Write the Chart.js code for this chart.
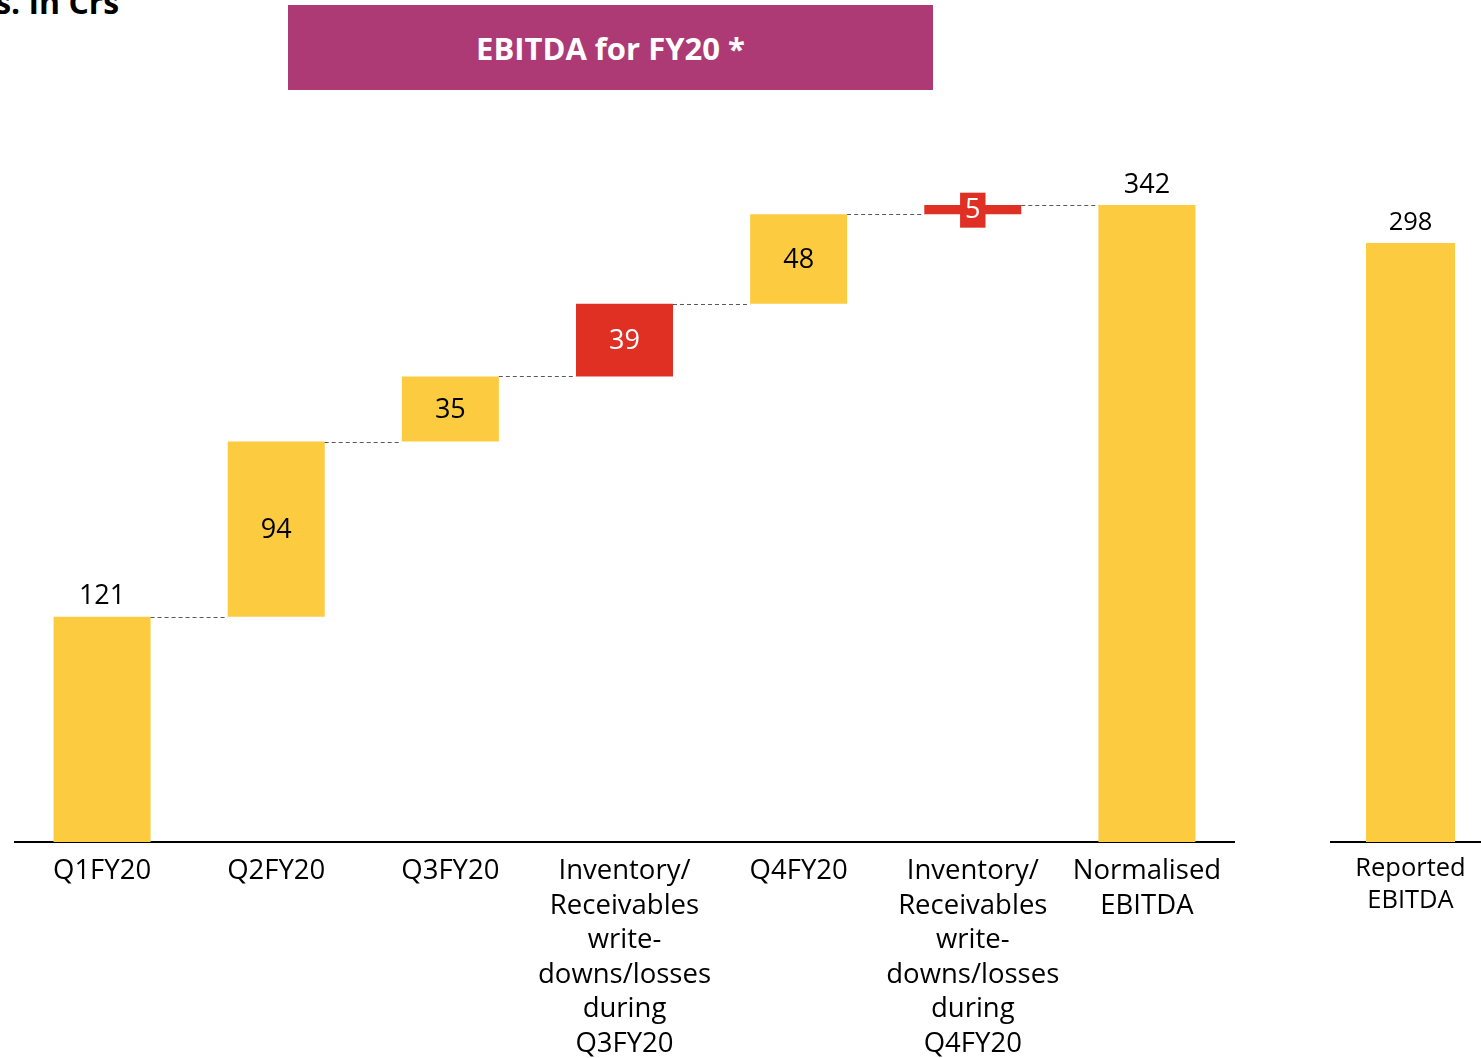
<!DOCTYPE html>
<html>
<head>
<meta charset="utf-8">
<title>EBITDA for FY20</title>
<script src="https://cdn.jsdelivr.net/npm/chart.js@4.4.1/dist/chart.umd.min.js"></script>
<style>
  html, body {
    margin: 0;
    padding: 0;
    width: 1481px;
    height: 1058px;
    overflow: hidden;
    background: #fff;
    font-family: "Open Sans", sans-serif;
  }
  #unit {
    position: absolute;
    left: -26px;
    top: -20px;
    font-weight: 700;
    font-size: 32px;
    color: #000;
    white-space: nowrap;
  }
  #title {
    position: absolute;
    left: 288px;
    top: 5px;
    width: 645px;
    height: 85px;
    background: #ad3a74;
    color: #fff;
    font-weight: 700;
    font-size: 31px;
    display: flex;
    align-items: center;
    justify-content: center;
  }
  #mainChart { position: absolute; left: 0; top: 0; }
  #sideChart { position: absolute; left: 1330px; top: 0; }
</style>
</head>
<body>
<div id="unit">Rs. In Crs</div>
<div id="title">EBITDA for FY20 *</div>
<canvas id="mainChart" width="1250" height="1058"></canvas>
<canvas id="sideChart" width="161" height="1058"></canvas>

<script>
// ---- data ----
const categories = [
  ["Q1FY20"],
  ["Q2FY20"],
  ["Q3FY20"],
  ["Inventory/", "Receivables", "write-", "downs/losses", "during", "Q3FY20"],
  ["Q4FY20"],
  ["Inventory/", "Receivables", "write-", "downs/losses", "during", "Q4FY20"],
  ["Normalised", "EBITDA"]
];
const values = [121, 94, 35, 39, 48, 5, 342];
// total = bar from zero, step = normal increment, adjust = write-down add-back
const barKinds = ["total", "step", "step", "adjust", "step", "adjust", "total"];

const reportedCategories = [["Reported", "EBITDA"]];
const reportedValues = [298];
const reportedKinds = ["total"];

const YELLOW = "#fccb40";
const RED = "#e03024";

// running totals -> floating bars
function toFloating(vals, kinds) {
  let running = 0;
  return vals.map((v, i) => {
    if (kinds[i] === "total") {
      running = v;
      return [0, v];
    }
    const start = running;
    running += v;
    return [start, running];
  });
}

// connectors + value labels
const waterfallPlugin = {
  id: "waterfall",
  afterDatasetsDraw(chart, args, opts) {
    const ctx = chart.ctx;
    const meta = chart.getDatasetMeta(0);
    const data = chart.data.datasets[0].data;
    const yScale = chart.scales.y;

    if (opts.connectors) {
      ctx.save();
      ctx.strokeStyle = "#595959";
      ctx.lineWidth = 1;
      ctx.setLineDash([4, 3]);
      for (let i = 0; i < meta.data.length - 1; i++) {
        const a = meta.data[i];
        const b = meta.data[i + 1];
        const y = Math.round(yScale.getPixelForValue(data[i][1])) + 0.5;
        ctx.beginPath();
        ctx.moveTo(a.x + a.width / 2, y);
        ctx.lineTo(b.x - b.width / 2, y);
        ctx.stroke();
      }
      ctx.restore();
    }

    ctx.save();
    ctx.font = opts.fontSize + "px 'Open Sans'";
    ctx.textAlign = "center";
    ctx.textBaseline = "middle";
    meta.data.forEach((bar, i) => {
      const kind = opts.kinds[i];
      const text = String(opts.values[i]);
      const top = Math.min(bar.y, bar.base);
      const bottom = Math.max(bar.y, bar.base);
      if (kind === "total") {
        ctx.fillStyle = "#000";
        ctx.fillText(text, bar.x, top - 20);
        return;
      }
      const cy = (top + bottom) / 2;
      if (kind === "adjust") {
        if (bottom - top < 34) {
          const w = ctx.measureText(text).width + 10;
          ctx.fillStyle = RED;
          ctx.fillRect(bar.x - w / 2, cy - 17, w, 35);
        }
        ctx.fillStyle = "#fff";
      } else {
        ctx.fillStyle = "#000";
      }
      ctx.fillText(text, bar.x, cy + 1);
    });
    ctx.restore();
  }
};

function makeChart(canvasId, labels, vals, kinds, cfg) {
  const ctx = document.getElementById(canvasId).getContext("2d");
  return new Chart(ctx, {
    type: "bar",
    data: {
      labels: labels,
      datasets: [{
        data: toFloating(vals, kinds),
        backgroundColor: kinds.map(k => (k === "adjust" ? RED : YELLOW)),
        borderWidth: 0,
        borderSkipped: false,
        barPercentage: cfg.barPercentage,
        categoryPercentage: 1
      }]
    },
    options: {
      responsive: false,
      animation: false,
      devicePixelRatio: 1,
      layout: { padding: cfg.padding },
      plugins: {
        legend: { display: false },
        tooltip: { enabled: false },
        waterfall: {
          connectors: cfg.connectors,
          kinds: kinds,
          values: vals,
          fontSize: cfg.labelSize
        }
      },
      scales: {
        x: {
          grid: { display: false, drawTicks: false },
          border: { display: true, color: "#000", width: 2 },
          ticks: {
            color: "#000",
            autoSkip: false,
            maxRotation: 0,
            padding: cfg.tickPadding,
            font: { family: "Open Sans", size: cfg.tickSize, lineHeight: cfg.lineHeight }
          },
          afterFit(scale) {
            scale.height = 216;
          }
        },
        y: { display: false, min: 0, max: 400 }
      }
    },
    plugins: [waterfallPlugin]
  });
}

const charts = {};

charts.main = makeChart("mainChart", categories, values, barKinds, {
  padding: { left: 15, right: 16, top: 97, bottom: 0 },
  barPercentage: 0.557,
  connectors: true,
  labelSize: 27,
  tickSize: 27.5,
  lineHeight: 1.255,
  tickPadding: 12
});

charts.side = makeChart("sideChart", reportedCategories, reportedValues, reportedKinds, {
  padding: { left: 0, right: 0, top: 38, bottom: 0 },
  barPercentage: 0.553,
  connectors: false,
  labelSize: 25.5,
  tickSize: 25.5,
  lineHeight: 1.25,
  tickPadding: 11
});
</script>
</body>
</html>
